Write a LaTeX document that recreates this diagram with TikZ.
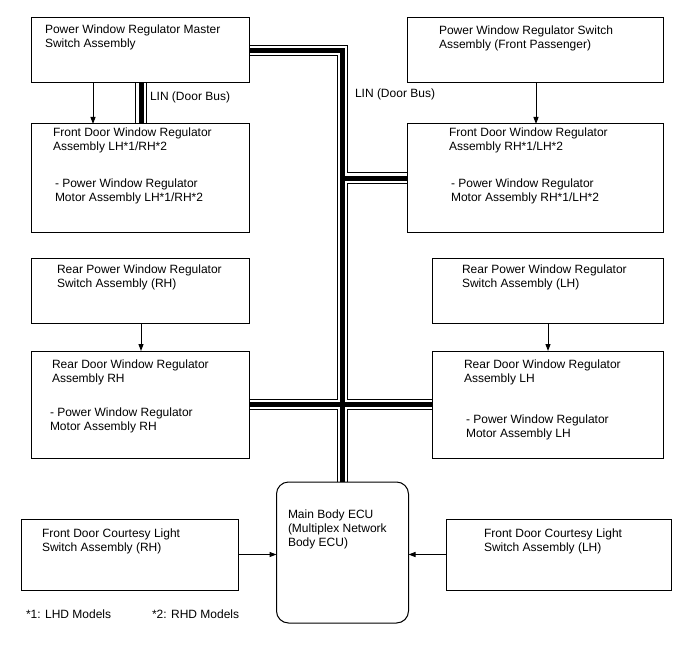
\documentclass[tikz,border=0pt]{standalone}
\usepackage{fontspec}
\setmainfont{Liberation Sans}
\usetikzlibrary{arrows.meta,backgrounds}
\begin{document}
\begin{tikzpicture}[x=1pt,y=-1pt,
  box/.style={draw=black,line width=1pt,rectangle,inner sep=0pt,outer sep=0pt},
  txt/.style={anchor=base west,inner sep=0pt,outer sep=0pt,align=left,font=\fontsize{12}{14}\selectfont},
  arr/.style={draw=black,line width=1pt,-{Triangle[length=7pt,width=5pt]}}]
\useasboundingbox (0,0) rectangle (688,658);
% boxes
\node[box,minimum width=218pt,minimum height=65pt] (m) at (140,50.5) {};
\node[box,minimum width=256pt,minimum height=65pt] (p) at (535,50.5) {};
\node[box,minimum width=218pt,minimum height=108pt] (fl) at (140,178) {};
\node[box,minimum width=256pt,minimum height=108pt] (fr) at (535,178) {};
\node[box,minimum width=218pt,minimum height=65pt] (rsr) at (140,290.5) {};
\node[box,minimum width=218pt,minimum height=107pt] (rdr) at (140,404.5) {};
\node[box,minimum width=231pt,minimum height=65pt] (rsl) at (547.5,290.5) {};
\node[box,minimum width=231pt,minimum height=107pt] (rdl) at (547.5,404.5) {};
\node[box,rounded corners=12pt,minimum width=132pt,minimum height=141pt] (ecu) at (342.5,552.5) {};
\node[box,minimum width=217pt,minimum height=71pt] (cr) at (129.5,554.5) {};
\node[box,minimum width=225pt,minimum height=71pt] (cl) at (558.5,554.5) {};
\coordinate (tc) at (342.5,50.5);
% texts (base = baseline of last line)
\node[txt] (tm) at (45,48) {Power Window Regulator Master\\Switch Assembly};
\node[txt] (tp) at (439,49) {Power Window Regulator Switch\\Assembly (Front Passenger)};
\node[txt] (tfl1) at (53,150) {Front Door Window Regulator\\Assembly LH*1/RH*2};
\node[txt] (tfl2) at (55,201) {- Power Window Regulator\\Motor Assembly LH*1/RH*2};
\node[txt] (tfr1) at (449,150) {Front Door Window Regulator\\Assembly RH*1/LH*2};
\node[txt] (tfr2) at (451,201) {- Power Window Regulator\\Motor Assembly RH*1/LH*2};
\node[txt] (trsr) at (57,287) {Rear Power Window Regulator\\Switch Assembly (RH)};
\node[txt] (trdr1) at (52,382) {Rear Door Window Regulator\\Assembly RH};
\node[txt] (trdr2) at (50,430) {- Power Window Regulator\\Motor Assembly RH};
\node[txt] (trsl) at (462,287) {Rear Power Window Regulator\\Switch Assembly (LH)};
\node[txt] (trdl1) at (464,382) {Rear Door Window Regulator\\Assembly LH};
\node[txt] (trdl2) at (466,437) {- Power Window Regulator\\Motor Assembly LH};
\node[txt] (tecu) at (288,546) {Main Body ECU\\(Multiplex Network\\Body ECU)};
\node[txt] (tcr) at (42,551) {Front Door Courtesy Light\\Switch Assembly (RH)};
\node[txt] (tcl) at (484,551) {Front Door Courtesy Light\\Switch Assembly (LH)};
\node[txt] (lin1) at (150,101) {LIN (Door Bus)};
\node[txt] (lin2) at (355,98) {LIN (Door Bus)};
\node[txt] (f1) at (26,618) {*1: LHD Models};
\node[txt] (f2) at (152,618) {*2: RHD Models};
% arrows
\draw[arr] ([xshift=62pt]m.south west) -- ([xshift=62pt]fl.north west);
\draw[arr] ([xshift=129pt]p.south west) -- ([xshift=129pt]fr.north west);
\draw[arr] ([xshift=110pt]rsr.south west) -- ([xshift=110pt]rdr.north west);
\draw[arr] ([xshift=116pt]rsl.south west) -- ([xshift=116pt]rdl.north west);
\draw[arr] (cr.east) -- (ecu.west |- cr.east);
\draw[arr] (cl.west) -- (ecu.east |- cl.west);
% LIN bus
\begin{scope}[on background layer]
\foreach \w/\c in {11.5/black,9.5/white,5/black}{
  \draw[line width=\w pt,draw=\c,line join=miter] (m.east) -- (tc) -- (ecu.north);
  \draw[line width=\w pt,draw=\c] (fr.west) -- (fr.west -| tc);
  \draw[line width=\w pt,draw=\c] (rdr.east) -- (rdl.west);
  \draw[line width=\w pt,draw=\c] ([xshift=110pt]m.south west) -- ([xshift=110pt]fl.north west);
}
\end{scope}
\end{tikzpicture}
\end{document}
